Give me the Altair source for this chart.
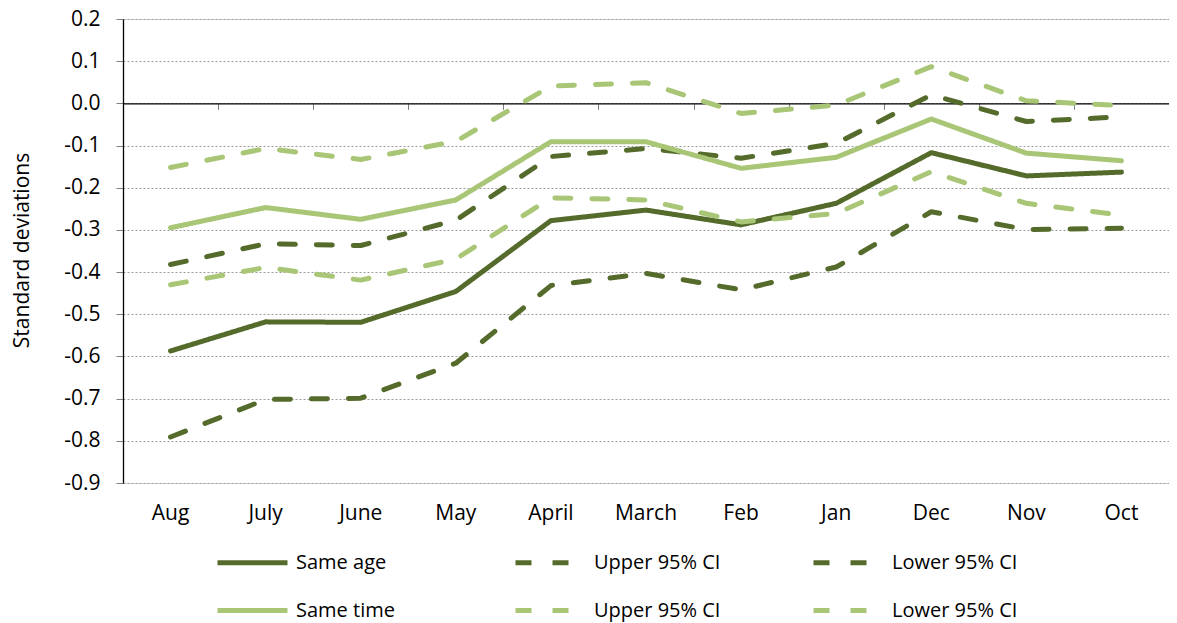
import altair as alt
import pandas as pd

months = ["Aug", "July", "June", "May", "April", "March", "Feb", "Jan", "Dec", "Nov", "Oct"]

same_age = [-0.587, -0.518, -0.519, -0.446, -0.278, -0.253, -0.288, -0.237, -0.117, -0.172, -0.163]
same_age_upper = [-0.382, -0.333, -0.337, -0.277, -0.126, -0.107, -0.130, -0.095, 0.020, -0.043, -0.032]
same_age_lower = [-0.791, -0.702, -0.699, -0.616, -0.432, -0.403, -0.442, -0.388, -0.257, -0.299, -0.296]
same_time = [-0.295, -0.247, -0.275, -0.229, -0.091, -0.091, -0.154, -0.128, -0.037, -0.118, -0.136]
same_time_upper = [-0.152, -0.107, -0.133, -0.090, 0.041, 0.049, -0.024, -0.004, 0.087, 0.006, -0.005]
same_time_lower = [-0.430, -0.389, -0.419, -0.369, -0.224, -0.229, -0.281, -0.261, -0.162, -0.237, -0.265]

series_names = ["Same age", "Same age upper", "Same age lower",
                "Same time", "Same time upper", "Same time lower"]
series_values = [same_age, same_age_upper, same_age_lower,
                 same_time, same_time_upper, same_time_lower]

y_ticks = [0.2, 0.1, 0.0, -0.1, -0.2, -0.3, -0.4, -0.5, -0.6, -0.7, -0.8, -0.9]

DARK = "#556B2B"
LIGHT = "#A8C676"
FONT = "Open Sans"
FS = 21

rows = []
for name, vals in zip(series_names, series_values):
    for m, v in zip(months, vals):
        rows.append({"series": name, "month": m, "value": v})
df = pd.DataFrame(rows)

W, H = 1046, 464
ymin, ymax = -0.9, 0.2
zero_from_bottom = H * (0 - ymin) / (ymax - ymin)

x_scale = alt.Scale(type="band", domain=months, paddingInner=0, paddingOuter=0)
y_scale = alt.Scale(domain=[ymin, ymax], nice=False, zero=False)

dash_solid = [1, 0]
dash = [16, 21]

legend = alt.Legend(
    title=None, orient="none", legendX=92, legendY=506, columns=3,
    direction="horizontal", symbolType="stroke", symbolSize=4900,
    symbolStrokeWidth=5, labelFontSize=FS - 1, labelFont=FONT, labelColor="black",
    gridAlign="all", columnPadding=82, rowPadding=0, labelOffset=6,
    labelExpr="indexof(datum.label, 'upper') >= 0 ? 'Upper 95% CI' : (indexof(datum.label, 'lower') >= 0 ? 'Lower 95% CI' : datum.label)",
)

y_axis = alt.Axis(
    values=y_ticks, grid=True, gridDash=[2, 2], gridColor="#9a9a9a", gridWidth=1,
    domainColor="black", domainWidth=1.3, tickColor="#808080", tickSize=7,
    labelFontSize=FS, labelFont=FONT, labelColor="black", labelPadding=16,
    labelExpr="datum.value < -0.0001 ? '-' + format(abs(datum.value), '.1f') : format(abs(datum.value), '.1f')",
    title="Standard deviations", titleFont=FONT, titleFontSize=FS,
    titleFontWeight="normal", titleColor="black", titleX=-101, titleY=H / 2 - 1,
    titleAngle=270, titleBaseline="middle", titleAlign="center",
)

label_axis = alt.Axis(
    orient="bottom", title=None, domain=False, ticks=False, grid=False, labelFontSize=FS,
    labelFont=FONT, labelColor="black", labelPadding=19, labelAngle=0,
)

zero_axis = alt.Axis(
    orient="bottom", title=None, labels=False, grid=False, domainColor="black", domainWidth=1.3,
    tickColor="#808080", tickSize=6, tickBand="extent", offset=-zero_from_bottom,
)

lines = alt.Chart(df).mark_line(strokeWidth=5, strokeCap="round", strokeJoin="round").encode(
    x=alt.X("month:N", sort=months, scale=x_scale, axis=label_axis, bandPosition=0.5),
    y=alt.Y("value:Q", scale=y_scale, axis=y_axis),
    color=alt.Color("series:N", scale=alt.Scale(domain=series_names,
                    range=[DARK, DARK, DARK, LIGHT, LIGHT, LIGHT]), legend=legend),
    strokeDash=alt.StrokeDash("series:N", scale=alt.Scale(domain=series_names,
                    range=[dash_solid, dash, dash, dash_solid, dash, dash]), legend=legend),
    order=alt.Order("month_idx:Q"),
).transform_calculate(
    month_idx="indexof(" + str(months) + ", datum.month)"
)

zero = alt.Chart(df).mark_point(opacity=0).encode(
    x=alt.X("month:N", sort=months, scale=x_scale, axis=zero_axis),
    y=alt.Y("value:Q", scale=y_scale, axis=y_axis),
)

chart = alt.layer(zero, lines).resolve_axis(x="independent").properties(
    width=W, height=H,
    autosize=alt.AutoSizeParams(type="none"),
    padding={"left": 115, "top": 11, "right": 0, "bottom": 139},
).configure_view(stroke=None).configure(font=FONT)

chart.save("out.html", embed_options={"renderer": "svg", "actions": False})
